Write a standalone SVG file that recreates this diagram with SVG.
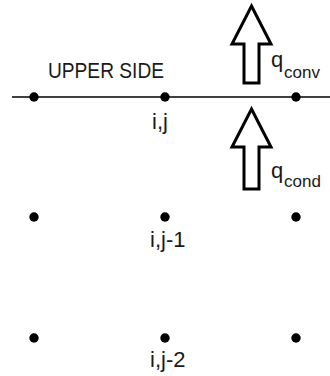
<svg xmlns="http://www.w3.org/2000/svg" width="330" height="376" viewBox="0 0 330 376">
<style>
.t{font-family:"Liberation Sans",Arial,sans-serif;font-size:22px;fill:#1a1a1a}
.s{font-size:17px}
.dot{fill:#000}
.arrow{fill:#fff;stroke:#000;stroke-width:3;stroke-linejoin:miter}
</style>
<rect width="330" height="376" fill="#fff"/>
<g id="connectors">
<line x1="12" y1="97" x2="330" y2="97" stroke="#000" stroke-width="1.5"/>
</g>
<g id="upper-side"><text class="t" x="48" y="78" font-size="21" textLength="116" lengthAdjust="spacingAndGlyphs">UPPER SIDE</text></g>
<g id="n-left-j"><circle class="dot" cx="34" cy="97" r="4.7"/></g>
<g id="n-ij"><circle class="dot" cx="165" cy="97" r="4.7"/><text class="t" x="152" y="129">i,j</text></g>
<g id="n-right-j"><circle class="dot" cx="296" cy="97" r="4.7"/></g>
<g id="n-left-j1"><circle class="dot" cx="34" cy="217" r="4.7"/></g>
<g id="n-ij1"><circle class="dot" cx="165" cy="217" r="4.7"/><text class="t" x="150" y="247">i,j-1</text></g>
<g id="n-right-j1"><circle class="dot" cx="296" cy="217" r="4.7"/></g>
<g id="n-left-j2"><circle class="dot" cx="34" cy="338" r="4.7"/></g>
<g id="n-ij2"><circle class="dot" cx="165" cy="338" r="4.7"/><text class="t" x="150" y="367">i,j-2</text></g>
<g id="n-right-j2"><circle class="dot" cx="296" cy="338" r="4.7"/></g>
<g id="q-conv">
<polygon class="arrow" points="251.5,6 271,44 259,44 259,83 244,83 244,44 232,44"/>
<text class="t" x="271" y="67">q</text>
<text class="t s" x="284" y="78">conv</text>
</g>
<g id="q-cond">
<polygon class="arrow" points="251.5,109 271,147 259,147 259,189 244,189 244,147 232,147"/>
<text class="t" x="271" y="178">q</text>
<text class="t s" x="284" y="187">cond</text>
</g>
</svg>
